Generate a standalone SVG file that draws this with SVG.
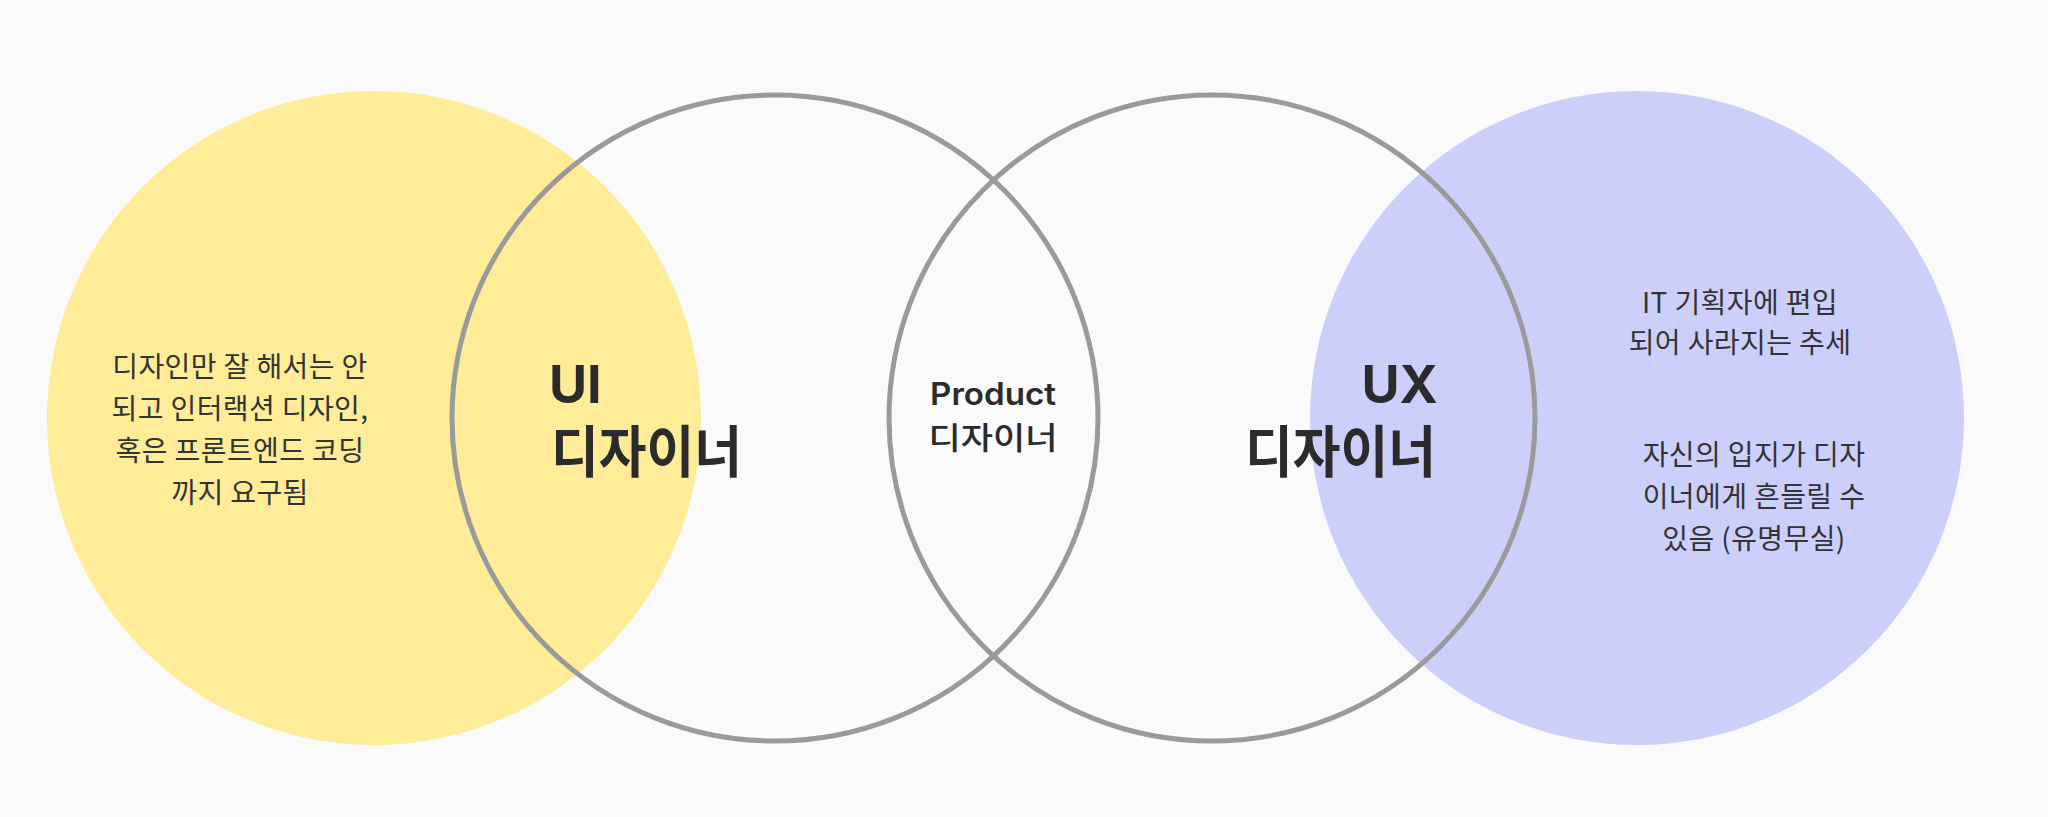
<svg xmlns="http://www.w3.org/2000/svg" width="2048" height="817" viewBox="0 0 2048 817">
<style>
.ring{fill:none;stroke:#9a9a9a;stroke-width:5}
.body{font-family:"Noto Sans CJK KR","Noto Sans",sans-serif;font-size:28px;letter-spacing:0.4px;fill:#333333;text-anchor:middle}
.big{font-family:"Noto Sans CJK KR","Noto Sans",sans-serif;font-weight:700;fill:#2b2b2b}
.lat{font-family:Inter,"Noto Sans",sans-serif;font-weight:700;fill:#2b2b2b}
.mid{font-family:"Noto Sans CJK KR","Noto Sans",sans-serif;font-weight:500;font-size:31px;fill:#2b2b2b;text-anchor:middle}
.midlat{font-family:Inter,"Noto Sans",sans-serif;font-weight:600;font-size:31px;fill:#2b2b2b;text-anchor:middle}
</style>
<rect width="2048" height="817" fill="#fafafa"/>
<g id="ui-circle">
<circle cx="374" cy="418" r="327" fill="#feec98"/>
</g>
<g id="ux-circle">
<circle cx="1637" cy="418" r="327" fill="#cccffa"/>
</g>
<g id="ring-left">
<circle class="ring" cx="775" cy="418" r="323"/>
</g>
<g id="ring-right">
<circle class="ring" cx="1212" cy="418" r="323"/>
</g>
<g id="ui-note">
<text class="body" x="240" y="377">디자인만 잘 해서는 안</text>
<text class="body" x="240" y="419">되고 인터랙션 디자인,</text>
<text class="body" x="240" y="461">혹은 프론트엔드 코딩</text>
<text class="body" x="240" y="503">까지 요구됨</text>
</g>
<g id="ui-label">
<text class="lat" x="549" y="403" font-size="52">UI</text>
<text class="big" x="551" y="472" font-size="56" textLength="191" lengthAdjust="spacingAndGlyphs">디자이너</text>
</g>
<g id="product-label">
<text class="midlat" x="993" y="405" textLength="126" lengthAdjust="spacingAndGlyphs">Product</text>
<text class="mid" x="993" y="449" textLength="129" lengthAdjust="spacingAndGlyphs">디자이너</text>
</g>
<g id="ux-label">
<text class="lat" x="1438" y="403" font-size="52" text-anchor="end">UX</text>
<text class="big" x="1436" y="472" font-size="56" text-anchor="end" textLength="191" lengthAdjust="spacingAndGlyphs">디자이너</text>
</g>
<g id="ux-note">
<text class="body" x="1740" y="313">IT 기획자에 편입</text>
<text class="body" x="1740" y="353">되어 사라지는 추세</text>
<text class="body" x="1754" y="465">자신의 입지가 디자</text>
<text class="body" x="1754" y="507">이너에게 흔들릴 수</text>
<text class="body" x="1754" y="549">있음 (유명무실)</text>
</g>
</svg>
